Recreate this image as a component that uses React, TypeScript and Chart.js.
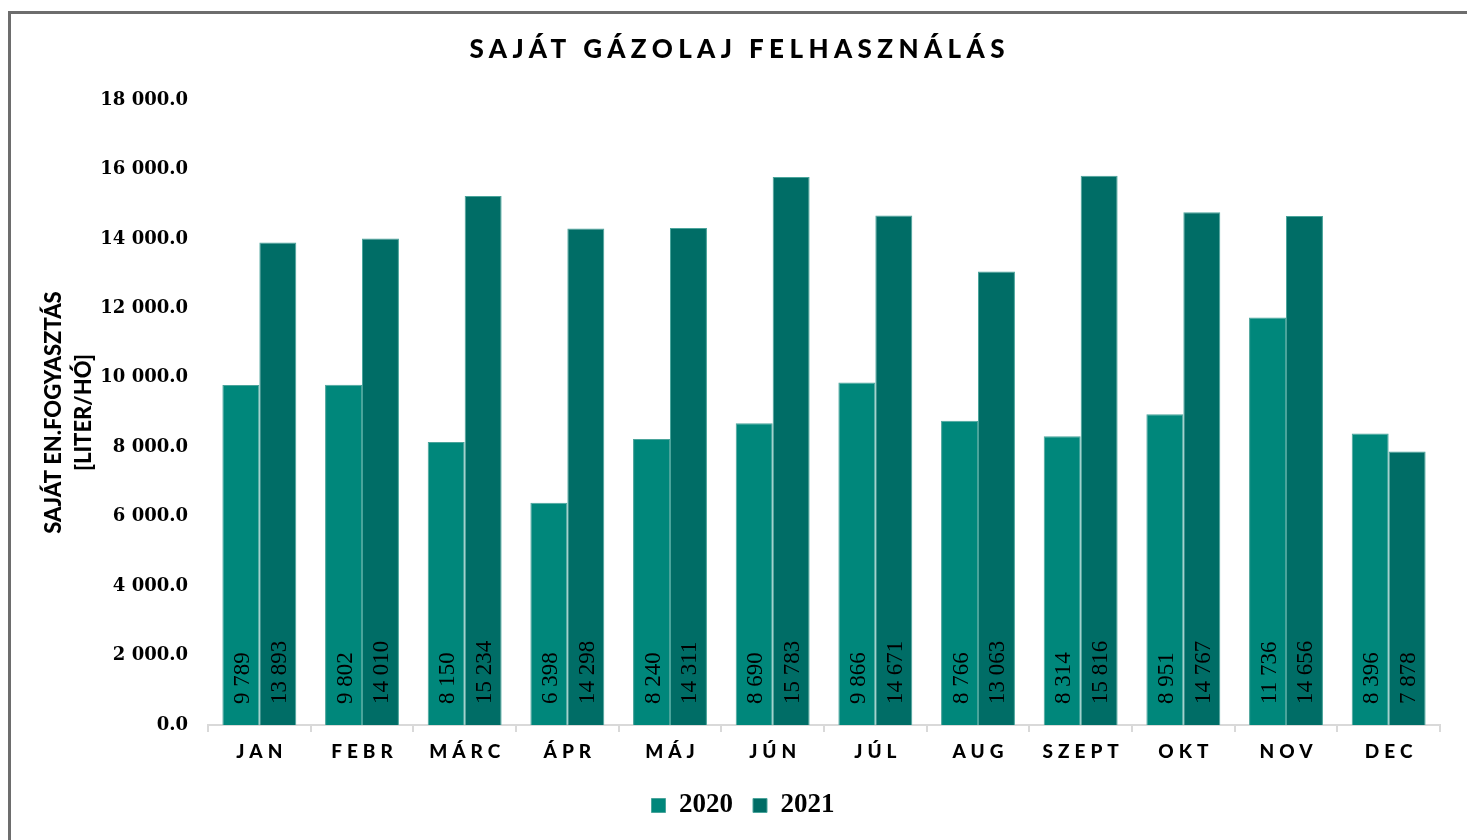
import React, { useEffect, useRef } from 'react';
import { Chart, registerables } from 'chart.js';

Chart.register(...registerables);

const categories = ['JAN', 'FEBR', 'MÁRC', 'ÁPR', 'MÁJ', 'JÚN', 'JÚL', 'AUG', 'SZEPT', 'OKT', 'NOV', 'DEC'];
const series2020 = [9789, 9802, 8150, 6398, 8240, 8690, 9866, 8766, 8314, 8951, 11736, 8396];
const series2021 = [13893, 14010, 15234, 14298, 14311, 15783, 14671, 13063, 15816, 14767, 14656, 7878];
const seriesNames = ['2020', '2021'];
const yMin = 0;
const yMax = 18000;
const yStep = 2000;
const chartTitle = 'SAJÁT GÁZOLAJ FELHASZNÁLÁS';
const yTitle = ['SAJÁT EN.FOGYASZTÁS', '[LITER/HÓ]'];

const colors = ['#00877b', '#006d66'];
const edgeColor = '#4aa49b';

function groupThousands(n: number, decimals: number): string {
  const s = Number(n).toFixed(decimals);
  const parts = s.split('.');
  const g = parts[0].replace(/\B(?=(\d{3})+(?!\d))/g, ' ');
  return parts.length > 1 ? g + '.' + parts[1] : g;
}

function drawSpaced(ctx: CanvasRenderingContext2D, text: string, cx: number, y: number, spacing: number) {
  (ctx as any).letterSpacing = '0px';
  const n = Array.from(text).length;
  const w = ctx.measureText(text).width + spacing * (n - 1);
  (ctx as any).letterSpacing = spacing + 'px';
  ctx.textAlign = 'left';
  ctx.fillText(text, cx - w / 2, y);
  (ctx as any).letterSpacing = '0px';
}

const overlayPlugin = {
  id: 'overlay',
  afterDatasetsDraw(chart: any) {
    const ctx: CanvasRenderingContext2D = chart.ctx;
    ctx.save();
    ctx.font = '23px "Liberation Serif"';
    ctx.fillStyle = '#000';
    ctx.textBaseline = 'alphabetic';
    ctx.textAlign = 'left';
    chart.data.datasets.forEach((ds: any, di: number) => {
      const meta = chart.getDatasetMeta(di);
      meta.data.forEach((bar: any, i: number) => {
        const label = groupThousands(ds.data[i], 0);
        ctx.save();
        ctx.translate(bar.x, bar.base - 21);
        ctx.rotate(-Math.PI / 2);
        ctx.fillText(label, 0, 8);
        ctx.restore();
      });
    });
    ctx.restore();
  },
  afterDraw(chart: any) {
    const ctx: CanvasRenderingContext2D = chart.ctx;
    ctx.save();
    ctx.fillStyle = '#000';
    ctx.textBaseline = 'middle';
    ctx.font = '900 26px Lato';
    drawSpaced(ctx, chartTitle, 737, 50, 5.4);
    const xs = chart.scales.x;
    ctx.font = '900 19px Lato';
    categories.forEach((c, i) => {
      drawSpaced(ctx, c, xs.getPixelForTick(i), 752, 5);
    });
    ctx.restore();
  },
};

export default function App() {
  const canvasRef = useRef<HTMLCanvasElement | null>(null);

  useEffect(() => {
    if (!canvasRef.current) return;
    const chart = new Chart(canvasRef.current, {
      type: 'bar',
      data: {
        labels: categories,
        datasets: [
          {
            label: seriesNames[0],
            data: series2020,
            backgroundColor: colors[0],
            borderColor: edgeColor,
            borderWidth: 1,
            categoryPercentage: 0.72,
            barPercentage: 1,
          },
          {
            label: seriesNames[1],
            data: series2021,
            backgroundColor: colors[1],
            borderColor: edgeColor,
            borderWidth: 1,
            categoryPercentage: 0.72,
            barPercentage: 1,
          },
        ],
      },
      options: {
        animation: false,
        responsive: false,
        maintainAspectRatio: false,
        layout: { padding: { left: 46, right: 27, top: 100, bottom: 11 } },
        plugins: {
          title: { display: false },
          tooltip: { enabled: false },
          legend: {
            display: true,
            position: 'bottom',
            labels: {
              boxWidth: 14,
              boxHeight: 14,
              padding: 20,
              color: '#000',
              font: { family: '"Liberation Serif"', weight: 'bold', size: 27 },
            },
          },
        },
        scales: {
          x: {
            ticks: {
              color: 'rgba(0,0,0,0)',
              font: { family: 'Lato', weight: 'bold', size: 19 },
              padding: 8,
            },
            grid: {
              display: true,
              drawOnChartArea: false,
              drawTicks: true,
              tickLength: 7,
              color: '#d9d9d9',
              lineWidth: 2,
            },
            border: { display: true, color: '#d9d9d9', width: 2 },
            afterFit: (s: any) => {
              s.height = 47;
            },
          },
          y: {
            min: yMin,
            max: yMax,
            ticks: {
              stepSize: yStep,
              color: '#000',
              padding: 20,
              font: { family: '"DejaVu Serif"', weight: 'bold', size: 18 },
              callback: (v: any) => groupThousands(Number(v), 1),
            },
            grid: { display: false, drawTicks: false },
            border: { display: false },
            title: {
              display: true,
              text: yTitle,
              color: '#000',
              font: { family: 'Lato', weight: '900', size: 22, lineHeight: 1.36 },
              padding: { top: -7, bottom: 0 },
            },
            afterFit: (s: any) => {
              s.width = 162;
            },
          },
        },
      },
      plugins: [overlayPlugin],
    });
    return () => chart.destroy();
  }, []);

  return (
    <div style={{ position: 'fixed', left: 0, top: 0, width: 1467, height: 840, overflow: 'hidden', background: '#fff' }}>
      <div
        style={{
          position: 'absolute',
          left: 8,
          top: 11,
          width: 2000,
          height: 2000,
          borderTop: '3px solid #6d6d6d',
          borderLeft: '3px solid #6d6d6d',
        }}
      />
      <canvas ref={canvasRef} width={1467} height={840} style={{ position: 'absolute', left: 0, top: 0 }} />
    </div>
  );
}
